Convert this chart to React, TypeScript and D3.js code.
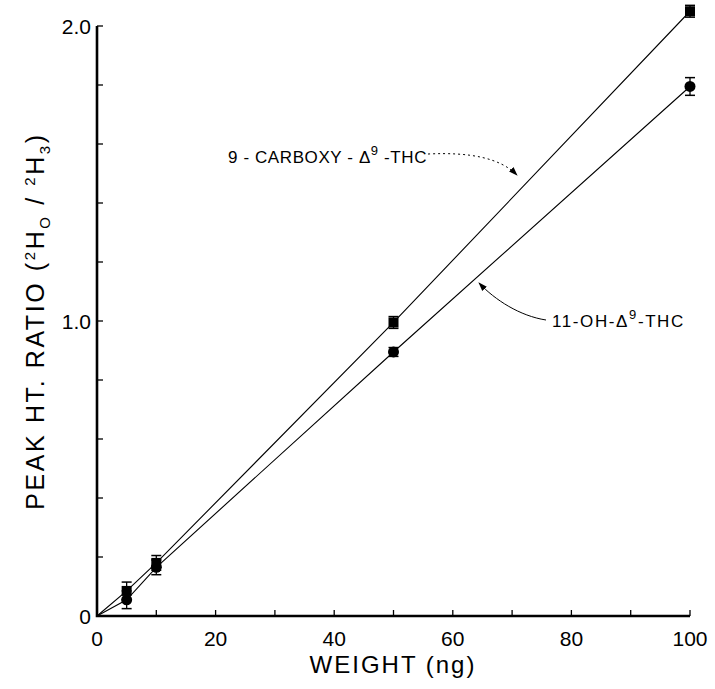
import { useRef, useEffect } from "react";
import * as d3 from "d3";

const weights = [5, 10, 50, 100];
const carboxy = [0.085, 0.18, 0.995, 2.05];
const carboxyErr = [0.03, 0.025, 0.02, 0.02];
const hydroxy = [0.055, 0.165, 0.895, 1.795];
const hydroxyErr = [0.03, 0.025, 0.015, 0.03];
const xTickLabels = [0, 20, 40, 60, 80, 100];
const yTickLabels = [0, 1.0, 2.0];

export default function App() {
  const ref = useRef<HTMLDivElement>(null);

  function init() {
    const el = ref.current!;
    el.innerHTML = "";

    const W = 715,
      H = 689;
    const svg = d3
      .select(el)
      .append("svg")
      .attr("width", W)
      .attr("height", H)
      .style("display", "block")
      .style("font-family", "'Liberation Sans', Arial, sans-serif");

    const x = d3.scaleLinear().domain([0, 100]).range([97, 690]);
    const y = d3.scaleLinear().domain([0, 2]).range([616, 26]);

    // Axes
    const axisG = svg.append("g");
    axisG
      .append("path")
      .attr("d", `M${x(0)},${y(2)}V${y(0)}H${x(100)}`)
      .attr("fill", "none")
      .attr("stroke", "#000")
      .attr("stroke-width", 2.6);

    // inward ticks
    axisG
      .selectAll(".xt")
      .data(d3.range(10, 101, 10))
      .join("line")
      .attr("x1", (d) => x(d))
      .attr("x2", (d) => x(d))
      .attr("y1", y(0))
      .attr("y2", y(0) - 6)
      .attr("stroke", "#000")
      .attr("stroke-width", 1.3);
    axisG
      .selectAll(".yt")
      .data(d3.range(1, 11).map((i) => i * 0.2))
      .join("line")
      .attr("x1", x(0))
      .attr("x2", x(0) + 6)
      .attr("y1", (d) => y(d))
      .attr("y2", (d) => y(d))
      .attr("stroke", "#000")
      .attr("stroke-width", 1.3);

    // Tick labels
    svg
      .append("g")
      .selectAll("text")
      .data(xTickLabels)
      .join("text")
      .attr("x", (d) => x(d))
      .attr("y", y(0) + 30)
      .attr("text-anchor", "middle")
      .attr("font-size", 21)
      .text((d) => d);
    svg
      .append("g")
      .selectAll("text")
      .data(yTickLabels)
      .join("text")
      .attr("x", x(0) - 6)
      .attr("y", (d) => y(d) + 8)
      .attr("text-anchor", "end")
      .attr("font-size", 21)
      .text((d) => (d === 0 ? "0" : d.toFixed(1)));

    // Axis titles
    svg
      .append("text")
      .attr("x", 393)
      .attr("y", 673)
      .attr("text-anchor", "middle")
      .attr("font-size", 24)
      .attr("letter-spacing", 2)
      .text("WEIGHT (ng)");

    const yt = svg
      .append("text")
      .attr("transform", `translate(44, ${y(1)}) rotate(-90)`)
      .attr("text-anchor", "middle")
      .attr("font-size", 25)
      .attr("letter-spacing", 2.6);
    yt.append("tspan").text("PEAK HT. RATIO (");
    yt.append("tspan").attr("dy", -9).attr("font-size", 15).text("2");
    yt.append("tspan").attr("dy", 9).text("H");
    yt.append("tspan").attr("dy", 6).attr("font-size", 15).text("O");
    yt.append("tspan").attr("dy", -6).text(" / ");
    yt.append("tspan").attr("dy", -9).attr("font-size", 15).text("2");
    yt.append("tspan").attr("dy", 9).text("H");
    yt.append("tspan").attr("dy", 6).attr("font-size", 15).text("3");
    yt.append("tspan").attr("dy", -6).text(")");

    // Data
    const series = [
      { vals: carboxy, err: carboxyErr, shape: "square" },
      { vals: hydroxy, err: hydroxyErr, shape: "circle" },
    ];

    const line = d3
      .line<[number, number]>()
      .x((d) => x(d[0]))
      .y((d) => y(d[1]));

    series.forEach((s) => {
      const pts: [number, number][] = [[0, 0], ...weights.map((w, i) => [w, s.vals[i]] as [number, number])];
      svg
        .append("path")
        .datum(pts)
        .attr("d", line)
        .attr("fill", "none")
        .attr("stroke", "#000")
        .attr("stroke-width", 1.1);

      const g = svg.append("g");
      weights.forEach((w, i) => {
        const cx = x(w),
          cy = y(s.vals[i]);
        const top = y(s.vals[i] + s.err[i]),
          bot = y(s.vals[i] - s.err[i]);
        g.append("line")
          .attr("x1", cx).attr("x2", cx)
          .attr("y1", top).attr("y2", bot)
          .attr("stroke", "#000").attr("stroke-width", 1.3);
        [top, bot].forEach((yy) =>
          g.append("line")
            .attr("x1", cx - 5).attr("x2", cx + 5)
            .attr("y1", yy).attr("y2", yy)
            .attr("stroke", "#000").attr("stroke-width", 1.5)
        );
        if (s.shape === "square") {
          g.append("rect")
            .attr("x", cx - 5).attr("y", cy - 5)
            .attr("width", 10).attr("height", 10)
            .attr("fill", "#000");
        } else {
          g.append("circle")
            .attr("cx", cx).attr("cy", cy).attr("r", 5.5)
            .attr("fill", "#000");
        }
      });
    });

    // Annotations
    const defs = svg.append("defs");
    defs
      .append("marker")
      .attr("id", "arr")
      .attr("viewBox", "0 0 10 10")
      .attr("refX", 9)
      .attr("refY", 5)
      .attr("markerWidth", 9)
      .attr("markerHeight", 9)
      .attr("orient", "auto")
      .append("path")
      .attr("d", "M0,1.5L10,5L0,8.5Z")
      .attr("fill", "#000");

    const a1 = svg
      .append("text")
      .attr("x", 228)
      .attr("y", 163)
      .attr("font-size", 17)
      .attr("letter-spacing", 0.6);
    a1.append("tspan").text("9 - CARBOXY - Δ");
    a1.append("tspan").attr("dy", -8).attr("font-size", 13).text("9");
    a1.append("tspan").attr("dy", 8).text(" -THC");

    svg
      .append("path")
      .attr("d", "M428,154 C470,152 500,158 517,175")
      .attr("fill", "none")
      .attr("stroke", "#000")
      .attr("stroke-width", 1)
      .attr("stroke-dasharray", "2,3")
      .attr("marker-end", "url(#arr)");

    const a2 = svg
      .append("text")
      .attr("x", 552)
      .attr("y", 327)
      .attr("font-size", 17)
      .attr("letter-spacing", 1.6);
    a2.append("tspan").text("11-OH-Δ");
    a2.append("tspan").attr("dy", -8).attr("font-size", 13).text("9");
    a2.append("tspan").attr("dy", 8).text("-THC");

    svg
      .append("path")
      .attr("d", "M546,320 C520,316 495,300 479,283")
      .attr("fill", "none")
      .attr("stroke", "#000")
      .attr("stroke-width", 1)
      .attr("marker-end", "url(#arr)");
  }

  useEffect(init, []);

  return (
    <>
      <div ref={ref} style={{ position: "absolute", left: 0, top: 0 }}></div>
    </>
  );
}
